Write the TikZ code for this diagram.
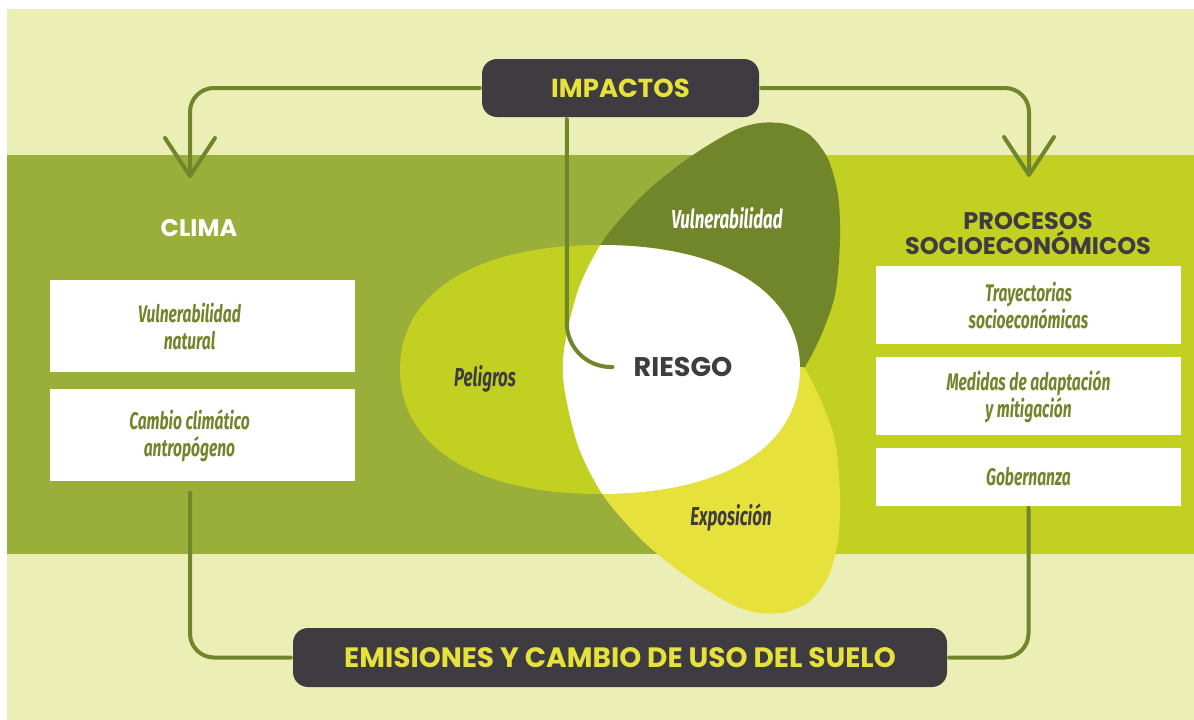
\documentclass[tikz,border=0pt]{standalone}
\usepackage{fontspec}
\setmainfont{Poppins}
\newfontfamily\condfont{Fira Sans}[FakeStretch=0.65]
\usetikzlibrary{arrows.meta, positioning}
\definecolor{cPale}{HTML}{EBEFB6}
\definecolor{cBandL}{HTML}{9AAF3A}
\definecolor{cBandR}{HTML}{C2D021}
\definecolor{cVul}{HTML}{71852B}
\definecolor{cExpo}{HTML}{E6E23B}
\definecolor{cDark}{HTML}{3E3C40}
\tikzset{
  headbox/.style={
    rectangle, fill=cDark, rounded corners=15pt, inner sep=0pt,
    text=cExpo, font=\bfseries\fontsize{26}{26}\selectfont
  },
  whitebox/.style={rectangle, fill=white, minimum width=305pt, inner sep=0pt},
  boxtext/.style={align=center, text=cVul, font=\condfont\bfseries\itshape\fontsize{24}{27}\selectfont},
  link/.style={cVul, line width=4pt, line cap=round, rounded corners=24pt, shorten <=2pt},
  flowarrow/.style={link, -{Straight Barb[length=38pt, width=50pt, round]}}
}
\newcommand{\leafshape}{plot[smooth cycle] coordinates {
  (760,123) (786,124) (810,135) (828,159) (838,195) (840,240) (835,295) (819,340)
  (798,378) (762,425) (690,455) (612,435) (572,405) (563,368) (567,333) (580,285)
  (605,238) (645,193) (690,157) (733,131)}}
\newcommand{\peligrosshape}{(400,369.5) .. controls (400,292.3) and (476,245) .. (600,245)
  .. controls (724,245) and (800,292.3) .. (800,369.5)
  .. controls (800,446.7) and (724,494) .. (600,494)
  .. controls (476,494) and (400,446.7) .. (400,369.5) -- cycle}

\begin{document}
\begin{tikzpicture}[x=1pt, y=-1pt,
    ovaltext/.style={font=\condfont\bfseries\itshape\fontsize{26}{26}\selectfont, inner sep=0pt, text depth=0pt},
    heading/.style={font=\bfseries\fontsize{24}{23}\selectfont, align=center, inner sep=0pt}
  ]
  \useasboundingbox (0,0) rectangle (1194,720);
  \fill[white] (0,0) rectangle (1194,720);
  \fill[cPale] (7,9) rectangle (1194,720);
  \fill[cBandL] (7,155) rectangle (750,554);
  \fill[cBandR] (750,155) rectangle (1194,554);

  % the three ovals
  \begin{scope}
    \clip (0,0) rectangle (1194,368.5);
    \fill[cVul] \leafshape;
  \end{scope}
  \begin{scope}
    \clip (0,367.5) rectangle (1194,720);
    \fill[cExpo, shift={(0,736)}, yscale=-1] \leafshape;
  \end{scope}
  \fill[cBandR] \peligrosshape;
  \begin{scope}
    \clip \peligrosshape;
    \begin{scope}
      \clip (0,0) rectangle (1194,368.5);
      \fill[white] \leafshape;
    \end{scope}
    \begin{scope}
      \clip (0,367.5) rectangle (1194,720);
      \fill[white, shift={(0,736)}, yscale=-1] \leafshape;
    \end{scope}
  \end{scope}

  \node[ovaltext, text=white] (vultxt) at (727,218) {Vulnerabilidad};
  \node[ovaltext, text=cDark] (peltxt) at (485,376) {Peligros};
  \node[ovaltext, text=cDark] (expotxt) at (731,515) {Exposición};
  \node[font=\bfseries\fontsize{27}{27}\selectfont, text=cDark, inner sep=0pt] (riesgo) at (683,367) {RIESGO};

  \node[headbox, minimum width=277pt, minimum height=58pt] (impactos) at (620.5,88) {IMPACTOS};
  \node[headbox, minimum width=654pt, minimum height=59pt, font=\bfseries\fontsize{28}{28}\selectfont] (emisiones) at (620,657.5) {EMISIONES Y CAMBIO DE USO DEL SUELO};

  \node[heading, text=white] (clima) at (199,228) {CLIMA};
  \node[whitebox, minimum height=92pt,
    label={[boxtext, xshift=-13pt]center:Vulnerabilidad\\natural}] (vulnat) at (202.5,326) {};
  \node[whitebox, minimum height=92pt, below=17pt of vulnat,
    label={[boxtext, xshift=-13pt]center:Cambio climático\\antropógeno}] (cambio) {};

  \node[heading, text=cDark] (procesos) at (1028,233.5) {PROCESOS\\SOCIOECONÓMICOS};
  \node[whitebox, boxtext, minimum height=78pt] (tray) at (1028.5,305) {Trayectorias\\socioeconómicas};
  \node[whitebox, boxtext, minimum height=78pt, below=13pt of tray] (medidas) {Medidas de adaptación\\y mitigación};
  \node[whitebox, boxtext, minimum height=58pt, below=12pt of medidas] (gober) {Gobernanza};

  \coordinate (climaIn) at (190,178);
  \coordinate (procIn) at (1029,177);
  \draw[flowarrow] (impactos.west) -| (climaIn);
  \draw[flowarrow] (impactos.east) -| (procIn);
  \draw[link, rounded corners=44pt] ([xshift=85pt]impactos.south west) |- ([xshift=-21pt]riesgo.west);
  \draw[link, shorten <=11pt, shorten >=2pt] ([xshift=-12.5pt]cambio.south) |- (emisiones.west);
  \draw[link, shorten >=2pt] (gober.south) |- (emisiones.east);
\end{tikzpicture}
\end{document}
